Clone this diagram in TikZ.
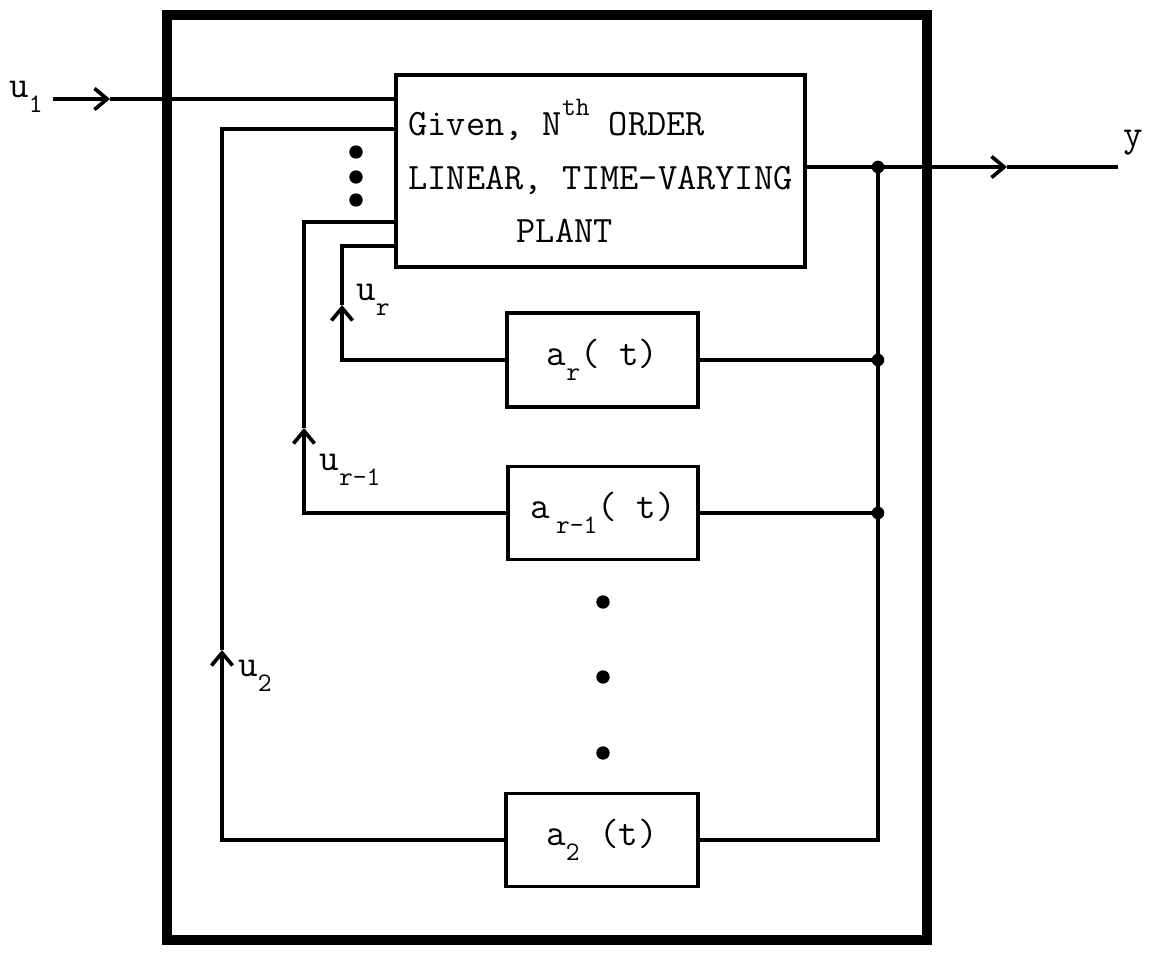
\documentclass[tikz,border=0pt]{standalone}
\usepackage{fontspec}
\newcommand\tw{\ttfamily\addfontfeature{FakeBold=1.2}}
\usetikzlibrary{arrows.meta,calc}
\newcommand\mysub[1]{\raisebox{-0.4em}{\fontsize{19}{19}\selectfont #1}}
\newcommand\mysup[1]{\raisebox{0.55em}{\fontsize{19}{19}\selectfont #1}}
\begin{document}
\begin{tikzpicture}[x=0.025cm,y=-0.025cm,
  wire/.style={line width=2.6pt},
  tip/.style={-{Straight Barb[length=9pt,width=15pt,line width=2.6pt]}},
  blk/.style={draw,line width=2.6pt,rectangle,inner sep=0pt,font=\tw\fontsize{27}{27}\selectfont},
  jdot/.style={circle,fill,inner sep=0pt,minimum size=9pt},
  lbl/.style={inner sep=0pt,font=\tw\fontsize{27}{27}\selectfont}]
\useasboundingbox (0,0) rectangle (1158,958);

% outer frame
\draw[line width=6.5pt] (167,15) rectangle (927,940);

% blocks
\node[blk,minimum width=10.225cm,minimum height=4.8cm,align=left,
      font=\tw\fontsize{26.5}{38}\selectfont] (plant) at (600.5,171)
  {Given, N\mysup{th} ORDER\\LINEAR, TIME-VARYING\\\hspace*{2.9em}PLANT};
\node[blk,minimum width=4.775cm,minimum height=2.35cm] (ar) at (602.5,360) {a\mysub{r}( t)};
\node[blk,minimum width=4.75cm,minimum height=2.33cm] (ar1) at (603,513) {a\,\mysub{r-1}( t)};
\node[blk,minimum width=4.8cm,minimum height=2.33cm] (a2) at (602,840) {a\mysub{2} (t)};

% coordinates
\coordinate (jy) at (878,167);
\coordinate (jr) at (878,360);
\coordinate (jr1) at (878,513);
\coordinate (yarr) at (1007,167);
\coordinate (yend) at (1118,167);
\coordinate (u1s) at (53,99);
\coordinate (u1a) at (110,99);
\coordinate (cr) at (342,305);
\coordinate (cr1) at (304,428);
\coordinate (c2) at (222,650);
\coordinate (ir) at (396,246);
\coordinate (ir1) at (396,222);
\coordinate (i2) at (396,129);

% input
\draw[wire,tip] (u1s) -- (u1a);
\draw[wire] (u1a) -- (plant.west |- u1a);

% output
\draw[wire] (plant.east |- jy) -- (jy);
\draw[wire,tip] (jy) -- (yarr);
\draw[wire] (yarr) -- (yend);

% right bus
\draw[wire] (ar.east) -- (jr);
\draw[wire] (ar1.east) -- (jr1);
\draw[wire] (a2.east) -| (jy);

% feedback paths
\draw[wire,tip] (ar.west) -| (cr);
\draw[wire] (cr) |- (plant.west |- ir);
\draw[wire,tip] (ar1.west) -| (cr1);
\draw[wire] (cr1) |- (plant.west |- ir1);
\draw[wire,tip] (a2.west) -| (c2);
\draw[wire] (c2) |- (plant.west |- i2);

% junction dots
\node[jdot] (dy) at (jy) {};
\node[jdot] (dr) at (jr) {};
\node[jdot] (dr1) at (jr1) {};

% ellipsis dots
\node[jdot,minimum size=9.5pt] (e1) at (356,152) {};
\node[jdot,minimum size=9.5pt] (e2) at (356,177) {};
\node[jdot,minimum size=9.5pt] (e3) at (356,200) {};
\node[jdot,minimum size=9.5pt] (m1) at (603,602) {};
\node[jdot,minimum size=9.5pt] (m2) at (603,677) {};
\node[jdot,minimum size=9.5pt] (m3) at (603,753) {};

% labels
\node[lbl] (lu1) at (26,97) {u\mysub{1}};
\node[lbl] (ly) at (1133,143) {y};
\node[lbl] (lur) at (373,300) {u\mysub{r}};
\node[lbl] (lur1) at (350,470) {u\mysub{r-1}};
\node[lbl] (lu2) at (255,676) {u\mysub{2}};
\end{tikzpicture}
\end{document}
